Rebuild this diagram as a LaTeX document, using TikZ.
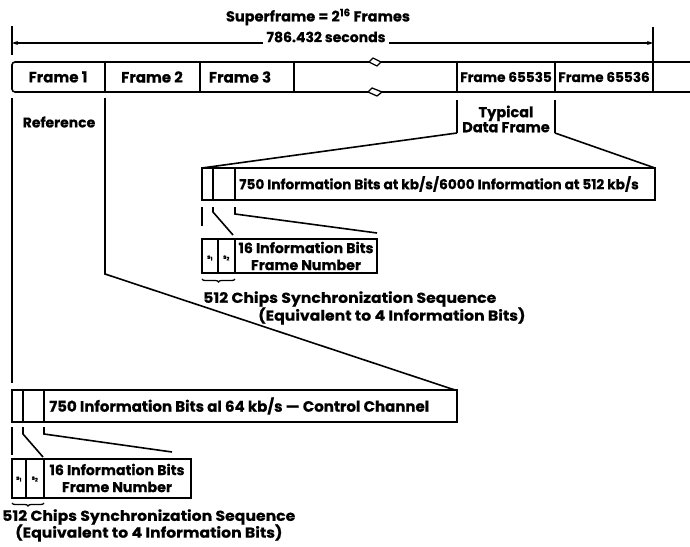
\documentclass[tikz,border=0pt]{standalone}
\usepackage{fontspec}
\setmainfont{Poppins}[BoldFeatures={FakeBold=0.5}]
\newfontfamily\widefont{Poppins}[FakeStretch=1.08, BoldFeatures={FakeBold=0.5}]
\usetikzlibrary{arrows.meta,decorations.pathreplacing}
\newcommand\fsz[2]{\bfseries\fontsize{#1}{#2}\selectfont}
\begin{document}
\begin{tikzpicture}[x=1pt,y=-1pt,
  every node/.style={inner sep=0pt, font=\fsz{14}{14}},
  rule/.style={line width=1.6pt},
  thinrule/.style={line width=1.3pt},
  framelbl/.style={font=\fsz{15}{15}},
  widelbl/.style={font=\fsz{13.6}{14}},
  bodytxt/.style={font=\fsz{13.7}{14}},
  hdrtxt/.style={align=center, font=\fsz{14.2}{17}},
  synctxt/.style={anchor=west, font=\widefont\fsz{14.5}{15}},
  tiny/.style={font=\fsz{6}{6}},
  brk/.style={line width=1.3pt, line join=round},
  bracelike/.style={line width=1.3pt, decorate, decoration={brace, amplitude=3pt}}]
\useasboundingbox (0,0) rectangle (690,546);

% ---- superframe span ----
\node[font=\fsz{14.5}{15}] (sf) at (318,17) {Superframe = 2\textsuperscript{16} Frames};
\coordinate (spanL) at (12,43);
\coordinate (spanR) at (653,43);
\draw[rule] (12,26) -- (12,55);
\draw[rule] (653,27) -- (653,92);
\draw[thinrule, {Stealth[length=6pt,width=4pt]}-{Stealth[length=6pt,width=4pt]}] (spanL) -- (spanR);
\node[fill=white, inner xsep=4pt, inner ysep=2pt] (dur) at (326,37) {786.432 seconds};

% ---- frame row ----
\draw[rule, rounded corners=3pt] (369,62) -- (12,62) -- (12,92) -- (368,92);
\draw[rule] (381,62) -- (690,62);
\draw[rule] (382,92) -- (690,92);
% break marks
\draw[brk] (369,62) -- (373,58) -- (381,62) -- (377,66) -- cycle;
\draw[brk] (368,92) -- (372,88) -- (382,92) -- (377,96) -- cycle;
\foreach \x in {105,200,294,457,555} \draw[rule] (\x,62) -- (\x,92);
\node[framelbl] (f1) at (58,77) {Frame 1};
\node[framelbl] (f2) at (152,77) {Frame 2};
\node[framelbl] (f3) at (240,77) {Frame 3};
\node[widelbl] (f65535) at (506,77) {Frame 65535};
\node[widelbl] (f65536) at (604,77) {Frame 65536};

% ---- reference frame leaders ----
\coordinate (refA) at (12,98);
\coordinate (refB) at (105,98);
\coordinate (refBk) at (105,274);
\draw[rule] (refA) -- (12,383);
\node (ref) at (59,122) {Reference};

% ---- typical data frame leaders ----
\coordinate (dfL) at (457,133);
\coordinate (dfR) at (555,133);
\draw[rule] (457,100) -- (dfL);
\draw[rule] (555,100) -- (dfR);
\node[align=center, font=\fsz{14.5}{14}] (typ) at (506,119) {Typical\\Data Frame};

% ---- data frame ----
\coordinate (dA) at (202,168);
\coordinate (dB) at (655,200);
\draw[rule] (dA) rectangle (dB);
\draw[rule] (213,168) -- (213,200);
\draw[rule] (235,168) -- (235,200);
\node[bodytxt, anchor=west] (dtext) at (239,184) {750 Information Bits at kb/s/6000 Information at 512 kb/s};
\draw[rule] (dfL) -- (dA);
\draw[rule] (dfR) -- (655,168);

% data frame header breakout
\draw[rule] (202,207) -- (202,226);
\draw[rule] (213,207) -- (213,212) -- (233,235);
\draw[rule] (235,207) -- (235,214) -- (377,233);
\draw[rule] (202,239) rectangle (377,273);
\draw[rule] (218,239) -- (218,273);
\draw[rule] (235,239) -- (235,273);
\node[tiny] (ds1) at (210,258) {s\textsubscript{1}};
\node[tiny] (ds2) at (226.5,258) {s\textsubscript{2}};
\node[hdrtxt] (dhdr) at (306,256) {16 Information Bits\\Frame Number};
\draw[bracelike] (235,279) -- (202,279);
\node[synctxt] (dsync1) at (203,299) {512 Chips Synchronization Sequence};
\node[synctxt] (dsync2) at (258,316) {(Equivalent to 4 Information Bits)};

% ---- control channel frame ----
\coordinate (cA) at (12,390);
\coordinate (cB) at (457,422);
\draw[rule] (cA) rectangle (cB);
\draw[rule] (23,390) -- (23,422);
\draw[rule] (44,390) -- (44,422);
\node[anchor=west, font=\fsz{15}{15}] (ctext) at (49,406) {750 Information Bits al 64 kb/s --- Control Channel};
\draw[rule] (refB) -- (refBk) -- (455,390);

% control frame header breakout
\draw[rule] (12,427) -- (12,455);
\draw[rule] (23,427) -- (23,434) -- (43,457);
\draw[rule] (44,427) -- (44,434) -- (172,452);
\draw[rule] (12,459) rectangle (191,498);
\draw[rule] (26,459) -- (26,498);
\draw[rule] (44,459) -- (44,498);
\node[tiny] (cs1) at (19,479) {s\textsubscript{1}};
\node[tiny] (cs2) at (35,479) {s\textsubscript{2}};
\node[hdrtxt] (chdr) at (117,478) {16 Information Bits\\Frame Number};
\draw[bracelike] (44,503) -- (12,503);
\node[synctxt] (csync1) at (2,517) {512 Chips Synchronization Sequence};
\node[synctxt] (csync2) at (15,533) {(Equivalent to 4 Information Bits)};
\end{tikzpicture}
\end{document}
